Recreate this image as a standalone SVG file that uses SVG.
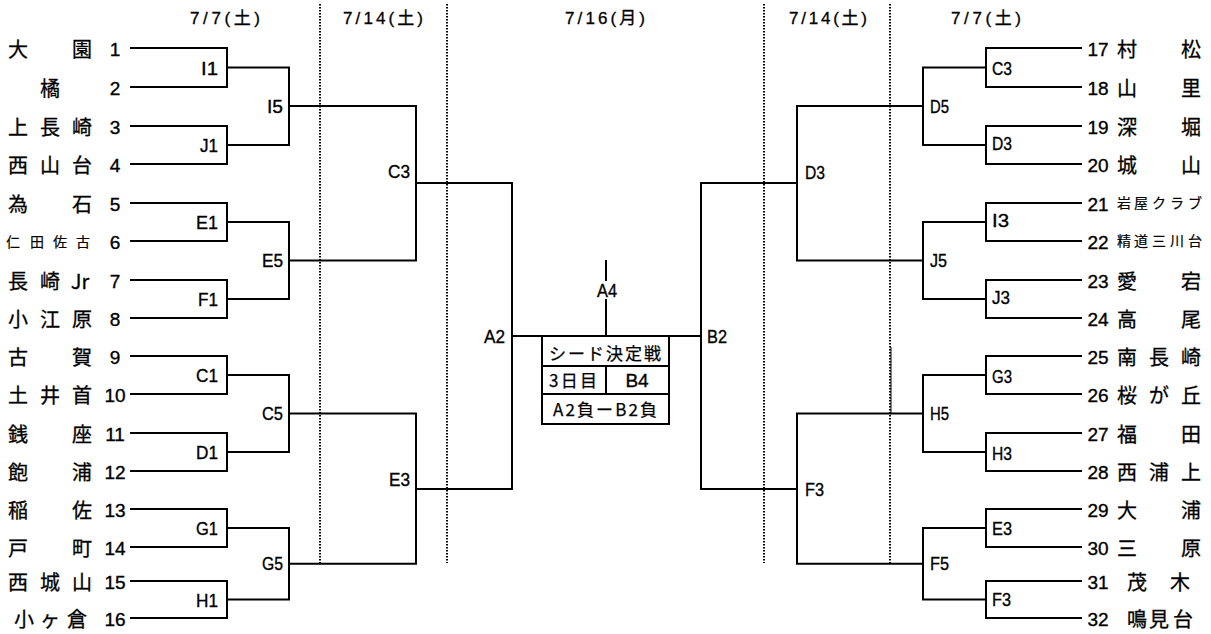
<svg xmlns="http://www.w3.org/2000/svg" width="1211" height="634" viewBox="0 0 1211 634">
<style>
.ln{fill:none;stroke:#000;stroke-width:2}
.dot{fill:none;stroke:#000;stroke-width:2;stroke-dasharray:1.5 1.5}
.thin{fill:none;stroke:#000;stroke-width:1}
.nm{font-family:"Noto Sans CJK JP","Noto Sans CJK SC",sans-serif;font-size:20px;text-anchor:middle;fill:#000;stroke:#000;stroke-width:0.3}
.sm{font-size:14px;stroke-width:0.2}
.no{font-family:"Liberation Sans",Arial,sans-serif;font-size:19px;text-anchor:middle;fill:#000;stroke:#000;stroke-width:0.35}
.lb{font-family:"Liberation Sans",Arial,sans-serif;font-size:19px;fill:#000;stroke:#000;stroke-width:0.35}
.e{text-anchor:end}
.m{text-anchor:middle}
.hd{font-family:"Liberation Sans","Noto Sans CJK JP",sans-serif;font-size:17px;text-anchor:middle;fill:#000;stroke:#000;stroke-width:0.3}
.bx{font-family:"Noto Sans CJK JP","Liberation Sans",sans-serif;font-size:17px;text-anchor:middle;fill:#000;stroke:#000;stroke-width:0.25}
</style>
<rect width="1211" height="634" fill="#fff"/>
<g id="headers">
<text class="hd" x="225" y="24" textLength="70" lengthAdjust="spacing">7/7(土)</text>
<text class="hd" x="383" y="24" textLength="80" lengthAdjust="spacing">7/14(土)</text>
<text class="hd" x="605" y="24" textLength="80" lengthAdjust="spacing">7/16(月)</text>
<text class="hd" x="828" y="24" textLength="78" lengthAdjust="spacing">7/14(土)</text>
<text class="hd" x="986" y="24" textLength="70" lengthAdjust="spacing">7/7(土)</text>
</g>
<g id="dividers">
<path class="dot" d="M320 4V563M447 4V563M764 4V563M890 4V563"/>
<path class="thin" d="M891 347V413"/>
</g>
<g id="connectors">
<path class="ln" d="M130 48H227V87H130M130 126H227V164H130M130 203H227V241H130M130 280H227V318H130M130 356H227V394H130M130 433H227V471H130M130 509H227V547H130M130 581H227V618H130"/>
<path class="ln" d="M227 67.5H289V145H227M227 222H289V299H227M227 375H289V452H227M227 528H289V599.5H227"/>
<path class="ln" d="M289 106H416V260.5H289M289 413.5H416V563.75H289"/>
<path class="ln" d="M416 183H512V489H416"/>
<path class="ln" d="M512 336H701M606 260V281M606 299V336"/>
<path class="ln" d="M1082 48H986V87H1082M1082 126H986V164H1082M1082 203H986V241H1082M1082 280H986V318H1082M1082 356H986V394H1082M1082 433H986V471H1082M1082 509H986V547H1082M1082 581H986V618H1082"/>
<path class="ln" d="M986 67.5H923V145H986M986 222H923V299H986M986 375H923V452H986M986 528H923V599.5H986"/>
<path class="ln" d="M923 106H797V260.5H923M923 413.5H797V563.75H923"/>
<path class="ln" d="M797 183H701V489H797"/>
</g>
<g id="seed-box">
<rect class="ln" x="542" y="336" width="127" height="88"/>
<path class="ln" d="M542 366H669M542 394H669M606 366V394"/>
<text class="bx" x="605" y="360" font-size="18" textLength="112" lengthAdjust="spacing">シード決定戦</text>
<text class="bx" x="573" y="387" textLength="48" lengthAdjust="spacing">3日目</text>
<text class="lb m" x="637" y="387">B4</text>
<text class="bx" x="605" y="416" font-size="18" textLength="104" lengthAdjust="spacing">A2負ーB2負</text>
</g>
<g id="team-1"><text class="nm" x="18 82" y="57">大園</text><text class="no" x="115" y="56">1</text></g>
<g id="team-2"><text class="nm" x="50" y="96">橘</text><text class="no" x="115" y="95">2</text></g>
<g id="team-3"><text class="nm" x="18 50 82" y="135">上長崎</text><text class="no" x="115" y="134">3</text></g>
<g id="team-4"><text class="nm" x="18 50 82" y="173">西山台</text><text class="no" x="115" y="172">4</text></g>
<g id="team-5"><text class="nm" x="18 82" y="212">為石</text><text class="no" x="115" y="211">5</text></g>
<g id="team-6"><text class="nm sm" x="13 37 60 83" y="247">仁田佐古</text><text class="no" x="115" y="249">6</text></g>
<g id="team-7"><text class="nm" x="18 50 80" y="289">長崎Jr</text><text class="no" x="115" y="288">7</text></g>
<g id="team-8"><text class="nm" x="18 50 82" y="327">小江原</text><text class="no" x="115" y="326">8</text></g>
<g id="team-9"><text class="nm" x="18 82" y="365">古賀</text><text class="no" x="115" y="364">9</text></g>
<g id="team-10"><text class="nm" x="18 50 82" y="403">土井首</text><text class="no" x="115" y="402">10</text></g>
<g id="team-11"><text class="nm" x="18 82" y="442">銭座</text><text class="no" x="115" y="441">11</text></g>
<g id="team-12"><text class="nm" x="18 82" y="480">飽浦</text><text class="no" x="115" y="479">12</text></g>
<g id="team-13"><text class="nm" x="18 82" y="518">稲佐</text><text class="no" x="115" y="517">13</text></g>
<g id="team-14"><text class="nm" x="18 82" y="556">戸町</text><text class="no" x="115" y="555">14</text></g>
<g id="team-15"><text class="nm" x="18 50 82" y="590">西城山</text><text class="no" x="115" y="589">15</text></g>
<g id="team-16"><text class="nm" x="24 50 77" y="627">小ヶ倉</text><text class="no" x="115" y="626">16</text></g>
<g id="team-17"><text class="no" x="1098" y="56">17</text><text class="nm" x="1127 1191" y="57">村松</text></g>
<g id="team-18"><text class="no" x="1098" y="95">18</text><text class="nm" x="1127 1191" y="96">山里</text></g>
<g id="team-19"><text class="no" x="1098" y="134">19</text><text class="nm" x="1127 1191" y="135">深堀</text></g>
<g id="team-20"><text class="no" x="1098" y="172">20</text><text class="nm" x="1127 1191" y="173">城山</text></g>
<g id="team-21"><text class="no" x="1098" y="211">21</text><text class="nm sm" x="1124 1141 1159 1177 1195" y="208">岩屋クラブ</text></g>
<g id="team-22"><text class="no" x="1098" y="249">22</text><text class="nm sm" x="1124 1141 1159 1177 1195" y="246">精道三川台</text></g>
<g id="team-23"><text class="no" x="1098" y="288">23</text><text class="nm" x="1127 1191" y="289">愛宕</text></g>
<g id="team-24"><text class="no" x="1098" y="326">24</text><text class="nm" x="1127 1191" y="327">高尾</text></g>
<g id="team-25"><text class="no" x="1098" y="364">25</text><text class="nm" x="1127 1159 1191" y="365">南長崎</text></g>
<g id="team-26"><text class="no" x="1098" y="402">26</text><text class="nm" x="1127 1159 1191" y="403">桜が丘</text></g>
<g id="team-27"><text class="no" x="1098" y="441">27</text><text class="nm" x="1127 1191" y="442">福田</text></g>
<g id="team-28"><text class="no" x="1098" y="479">28</text><text class="nm" x="1127 1159 1191" y="480">西浦上</text></g>
<g id="team-29"><text class="no" x="1098" y="517">29</text><text class="nm" x="1127 1191" y="518">大浦</text></g>
<g id="team-30"><text class="no" x="1098" y="555">30</text><text class="nm" x="1127 1191" y="556">三原</text></g>
<g id="team-31"><text class="no" x="1098" y="589">31</text><text class="nm" x="1137 1180" y="590">茂木</text></g>
<g id="team-32"><text class="no" x="1098" y="626">32</text><text class="nm" x="1137 1159 1183" y="627">鳴見台</text></g>
<g id="match-L-I1"><text class="lb e" x="218" y="75" textLength="17" lengthAdjust="spacingAndGlyphs">I1</text></g>
<g id="match-L-J1"><text class="lb e" x="218" y="152" textLength="18" lengthAdjust="spacingAndGlyphs">J1</text></g>
<g id="match-L-E1"><text class="lb e" x="218" y="229" textLength="22" lengthAdjust="spacingAndGlyphs">E1</text></g>
<g id="match-L-F1"><text class="lb e" x="218" y="306" textLength="20" lengthAdjust="spacingAndGlyphs">F1</text></g>
<g id="match-L-C1"><text class="lb e" x="218" y="382" textLength="22" lengthAdjust="spacingAndGlyphs">C1</text></g>
<g id="match-L-D1"><text class="lb e" x="218" y="459" textLength="22" lengthAdjust="spacingAndGlyphs">D1</text></g>
<g id="match-L-G1"><text class="lb e" x="218" y="535" textLength="22" lengthAdjust="spacingAndGlyphs">G1</text></g>
<g id="match-L-H1"><text class="lb e" x="218" y="607" textLength="22" lengthAdjust="spacingAndGlyphs">H1</text></g>
<g id="match-L-I5"><text class="lb e" x="283" y="113" textLength="16" lengthAdjust="spacingAndGlyphs">I5</text></g>
<g id="match-L-E5"><text class="lb e" x="283" y="267" textLength="21" lengthAdjust="spacingAndGlyphs">E5</text></g>
<g id="match-L-C5"><text class="lb e" x="283" y="420" textLength="21" lengthAdjust="spacingAndGlyphs">C5</text></g>
<g id="match-L-G5"><text class="lb e" x="283" y="570" textLength="21" lengthAdjust="spacingAndGlyphs">G5</text></g>
<g id="match-L-C3"><text class="lb e" x="410" y="178" textLength="22" lengthAdjust="spacingAndGlyphs">C3</text></g>
<g id="match-L-E3"><text class="lb e" x="410" y="486" textLength="21" lengthAdjust="spacingAndGlyphs">E3</text></g>
<g id="match-A2"><text class="lb e" x="505" y="343" textLength="21" lengthAdjust="spacingAndGlyphs">A2</text></g>
<g id="match-A4"><text class="lb m" x="607" y="297" textLength="20" lengthAdjust="spacingAndGlyphs">A4</text></g>
<g id="match-B2"><text class="lb" x="707" y="343" textLength="20" lengthAdjust="spacingAndGlyphs">B2</text></g>
<g id="match-R-D3b"><text class="lb" x="805" y="179" textLength="20" lengthAdjust="spacingAndGlyphs">D3</text></g>
<g id="match-R-F3b"><text class="lb" x="805" y="496" textLength="19" lengthAdjust="spacingAndGlyphs">F3</text></g>
<g id="match-R-D5"><text class="lb" x="930" y="113" textLength="19" lengthAdjust="spacingAndGlyphs">D5</text></g>
<g id="match-R-J5"><text class="lb" x="930" y="267" textLength="17" lengthAdjust="spacingAndGlyphs">J5</text></g>
<g id="match-R-H5"><text class="lb" x="930" y="420" textLength="19" lengthAdjust="spacingAndGlyphs">H5</text></g>
<g id="match-R-F5"><text class="lb" x="930" y="570" textLength="19" lengthAdjust="spacingAndGlyphs">F5</text></g>
<g id="match-R-C3"><text class="lb" x="992" y="75" textLength="20" lengthAdjust="spacingAndGlyphs">C3</text></g>
<g id="match-R-D3"><text class="lb" x="992" y="150" textLength="20" lengthAdjust="spacingAndGlyphs">D3</text></g>
<g id="match-R-I3"><text class="lb" x="992" y="227" textLength="17" lengthAdjust="spacingAndGlyphs">I3</text></g>
<g id="match-R-J3"><text class="lb" x="992" y="304" textLength="18" lengthAdjust="spacingAndGlyphs">J3</text></g>
<g id="match-R-G3"><text class="lb" x="992" y="383" textLength="20" lengthAdjust="spacingAndGlyphs">G3</text></g>
<g id="match-R-H3"><text class="lb" x="992" y="460" textLength="20" lengthAdjust="spacingAndGlyphs">H3</text></g>
<g id="match-R-E3"><text class="lb" x="992" y="535" textLength="20" lengthAdjust="spacingAndGlyphs">E3</text></g>
<g id="match-R-F3"><text class="lb" x="992" y="606" textLength="19" lengthAdjust="spacingAndGlyphs">F3</text></g>
</svg>
